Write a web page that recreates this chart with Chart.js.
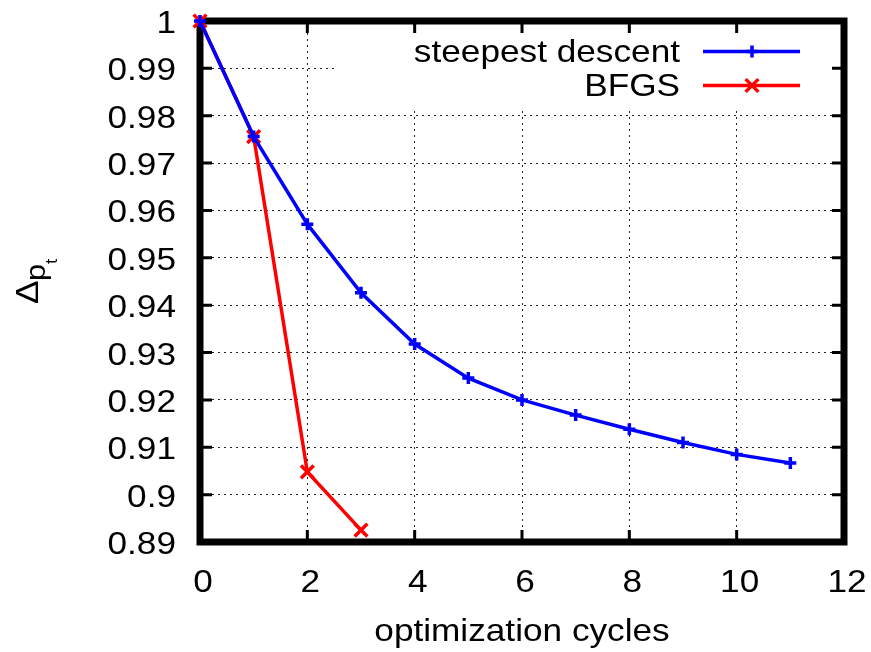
<!DOCTYPE html>
<html>
<head>
<meta charset="utf-8">
<script src="https://cdn.jsdelivr.net/npm/chart.js@4.4.1/dist/chart.umd.min.js"></script>
<style>
html,body{margin:0;padding:0;background:#fff;}
canvas{display:block;}
</style>
</head>
<body>
<canvas id="c" width="871" height="652"></canvas>
<script>
// ---- data ----
const cycles = [0, 1, 2, 3, 4, 5, 6, 7, 8, 9, 10, 11];
const steepestDescent = [1.0, 0.9756, 0.9571, 0.9426, 0.9318, 0.9246, 0.9200, 0.9168, 0.9138, 0.9110, 0.9085, 0.9067];
const bfgsCycles = [0, 1, 2, 3];
const bfgs = [1.0, 0.9756, 0.9048, 0.8925];
const seriesLabels = ['steepest descent', 'BFGS'];
const xTickValues = [0, 2, 4, 6, 8, 10, 12];
const xTickLabels = ['0', '2', '4', '6', '8', '10', '12'];
const yTickValues = [0.89, 0.90, 0.91, 0.92, 0.93, 0.94, 0.95, 0.96, 0.97, 0.98, 0.99, 1.00];
const yTickLabels = ['0.89', '0.9', '0.91', '0.92', '0.93', '0.94', '0.95', '0.96', '0.97', '0.98', '0.99', '1'];
const xTitle = 'optimization cycles';

const FONT = '"Liberation Sans", Arial, Helvetica, sans-serif';
const FS = 32;
const SX = 1.1;

function sText(ctx, txt, x, y, align, size, sx) {
  ctx.save();
  ctx.font = size + 'px ' + FONT;
  ctx.textAlign = align;
  ctx.textBaseline = 'alphabetic';
  ctx.fillStyle = '#000';
  ctx.translate(x, y);
  ctx.scale(sx, 1);
  ctx.fillText(txt, 0, 0);
  ctx.restore();
}

function drawMarker(ctx, style, x, y, r, color, w) {
  ctx.save();
  ctx.strokeStyle = color;
  ctx.lineWidth = w;
  ctx.beginPath();
  if (style === 'cross') {
    ctx.moveTo(x - r, y); ctx.lineTo(x + r, y);
    ctx.moveTo(x, y - r); ctx.lineTo(x, y + r);
  } else {
    const d = r * Math.SQRT1_2;
    ctx.moveTo(x - d, y - d); ctx.lineTo(x + d, y + d);
    ctx.moveTo(x - d, y + d); ctx.lineTo(x + d, y - d);
  }
  ctx.stroke();
  ctx.restore();
}

const framePlugin = {
  id: 'frame',
  beforeDatasetsDraw(chart) {
    const ctx = chart.ctx, a = chart.chartArea;
    const xs = chart.scales.x, ys = chart.scales.y;
    // opaque key box
    ctx.save();
    ctx.fillStyle = '#fff';
    ctx.fillRect(337, a.top, a.right - 337, 108 - a.top);
    // inward ticks
    ctx.strokeStyle = '#000';
    ctx.lineWidth = 3;
    ctx.beginPath();
    const TL = 12;
    yTickValues.forEach(v => {
      const py = ys.getPixelForValue(v);
      ctx.moveTo(a.left, py); ctx.lineTo(a.left + TL, py);
      ctx.moveTo(a.right, py); ctx.lineTo(a.right - TL, py);
    });
    xTickValues.forEach(v => {
      const px = xs.getPixelForValue(v);
      ctx.moveTo(px, a.bottom); ctx.lineTo(px, a.bottom - TL);
      ctx.moveTo(px, a.top); ctx.lineTo(px, a.top + TL);
    });
    ctx.stroke();
    // frame
    ctx.lineWidth = 7;
    ctx.strokeRect(a.left, a.top, a.right - a.left, a.bottom - a.top);
    ctx.restore();
  },
  afterDraw(chart) {
    const ctx = chart.ctx, a = chart.chartArea;
    const xs = chart.scales.x, ys = chart.scales.y;
    // y tick labels
    yTickValues.forEach((v, i) => {
      sText(ctx, yTickLabels[i], a.left - 24, ys.getPixelForValue(v) + 12, 'right', FS, SX);
    });
    // x tick labels
    xTickValues.forEach((v, i) => {
      sText(ctx, xTickLabels[i], xs.getPixelForValue(v) + 3, a.bottom + 50, 'center', FS, SX);
    });
    // x title
    sText(ctx, xTitle, (a.left + a.right) / 2, 641, 'center', FS, SX);
    // y title  Δ_{p_t}
    ctx.save();
    ctx.translate(38, 304);
    ctx.rotate(-Math.PI / 2);
    ctx.fillStyle = '#000';
    ctx.textBaseline = 'alphabetic';
    ctx.textAlign = 'left';
    ctx.font = '32px ' + FONT;
    ctx.save(); ctx.scale(1.1, 1); ctx.fillText('\u0394', 0, 0); ctx.restore();
    ctx.font = '28px ' + FONT;
    ctx.save(); ctx.translate(23, 7); ctx.scale(1.1, 1); ctx.fillText('p', 0, 0); ctx.restore();
    ctx.font = '17px ' + FONT;
    ctx.save(); ctx.translate(40, 19); ctx.scale(1.1, 1); ctx.fillText('t', 0, 0); ctx.restore();
    ctx.restore();
    // key
    const rows = [62, 96];
    chart.data.datasets.forEach((ds, i) => {
      const by = rows[i];
      sText(ctx, ds.label, 680, by, 'right', FS, SX);
      const ly = by - 10.5;
      ctx.save();
      ctx.strokeStyle = ds.borderColor;
      ctx.lineWidth = ds.borderWidth;
      ctx.beginPath();
      ctx.moveTo(703, ly); ctx.lineTo(800, ly);
      ctx.stroke();
      ctx.restore();
      drawMarker(ctx, ds.pointStyle, 752, ly, ds.pointRadius, ds.borderColor, ds.pointBorderWidth);
    });
  }
};

new Chart(document.getElementById('c'), {
  type: 'line',
  data: {
    datasets: [
      {
        label: seriesLabels[0],
        data: cycles.map((c, i) => ({ x: c, y: steepestDescent[i] })),
        borderColor: '#0000ff',
        backgroundColor: '#0000ff',
        borderWidth: 3.5,
        pointStyle: 'cross',
        pointRadius: 6,
        pointBorderWidth: 3.5,
        pointBorderColor: '#0000ff',
        tension: 0,
        fill: false,
        clip: false
      },
      {
        label: seriesLabels[1],
        data: bfgsCycles.map((c, i) => ({ x: c, y: bfgs[i] })),
        borderColor: '#ff0000',
        backgroundColor: '#ff0000',
        borderWidth: 3.5,
        pointStyle: 'crossRot',
        pointRadius: 9,
        pointBorderWidth: 3.5,
        pointBorderColor: '#ff0000',
        tension: 0,
        fill: false,
        clip: false
      }
    ]
  },
  options: {
    responsive: false,
    animation: false,
    devicePixelRatio: 1,
    layout: { padding: { left: 200, top: 21, right: 27, bottom: 110 } },
    plugins: { legend: { display: false }, tooltip: { enabled: false } },
    scales: {
      x: {
        type: 'linear', min: 0, max: 12,
        afterBuildTicks: s => { s.ticks = xTickValues.map(v => ({ value: v })); },
        ticks: { display: false },
        grid: { color: '#222', lineWidth: 1, drawTicks: false },
        border: { display: false, dash: [2, 4] }
      },
      y: {
        type: 'linear', min: 0.89, max: 1.0,
        afterBuildTicks: s => { s.ticks = yTickValues.map(v => ({ value: v })); },
        ticks: { display: false },
        grid: { color: '#222', lineWidth: 1, drawTicks: false },
        border: { display: false, dash: [2, 4] }
      }
    }
  },
  plugins: [framePlugin]
});
</script>
</body>
</html>
